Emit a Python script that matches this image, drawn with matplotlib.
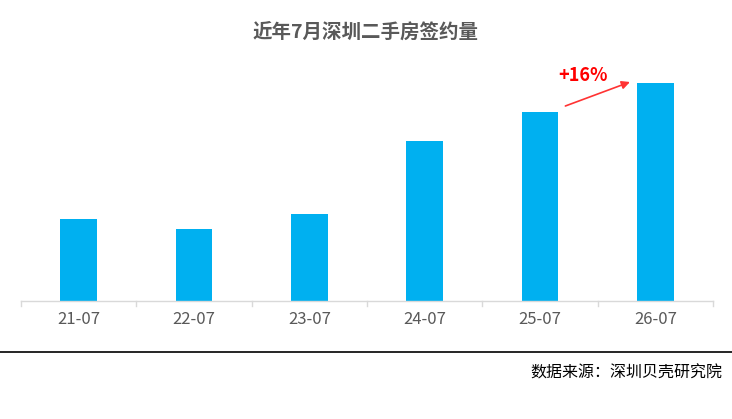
import matplotlib
matplotlib.use("Agg")
import matplotlib.pyplot as plt
import numpy as np

plt.rcParams['font.family'] = ['Noto Sans CJK SC', 'DejaVu Sans']

months = ['21-07', '22-07', '23-07', '24-07', '25-07', '26-07']
volumes = [82, 72, 87, 160, 189, 218]
growth_label = '+16%'

fig = plt.figure(figsize=(7.32, 4.19), dpi=100)
ax = fig.add_axes([21 / 732, 1 - 301 / 419, 692 / 732, 250 / 419])

x = np.arange(len(months))
ax.bar(x, volumes, width=0.32, color='#00B0F0')

ax.set_xlim(-0.5, len(months) - 0.5)
ax.set_ylim(0, 250)
ax.set_yticks([])
for s in ['top', 'right', 'left']:
    ax.spines[s].set_visible(False)
ax.spines['bottom'].set_color('#D9D9D9')
ax.spines['bottom'].set_linewidth(1)

ax.set_xticks(x)
ax.set_xticklabels(months, fontsize=12, color='#595959')
ax.tick_params(axis='x', length=0, pad=7)
# category boundary ticks
for b in np.arange(-0.5, len(months), 1.0):
    ax.plot([b, b], [0, -5], color='#D9D9D9', lw=1, clip_on=False)

fig.text(0.5, 1 - 32 / 419, '近年7月深圳二手房签约量', ha='center', va='center',
         fontsize=14, fontweight='bold', color='#595959')

# growth arrow between last two bars
ax.annotate('', xy=(x[5] - 0.22, volumes[5] + 1), xytext=(x[4] + 0.22, volumes[4] + 6),
            arrowprops=dict(arrowstyle='-|>', color='#FF3333', lw=1.2,
                            mutation_scale=12, shrinkA=0, shrinkB=0))
ax.text(x[4] + 0.37, volumes[5] + 8, growth_label, ha='center', va='center',
        fontsize=13, fontweight='bold', color='#FF0000')

fig.add_artist(plt.Line2D([0, 1], [1 - 352 / 419] * 2, color='black', lw=1.2))
fig.text(722 / 732, 1 - 373 / 419, '数据来源：深圳贝壳研究院', ha='right', va='center',
         fontsize=11.5, color='black')

fig.savefig('out.png', dpi=100)
